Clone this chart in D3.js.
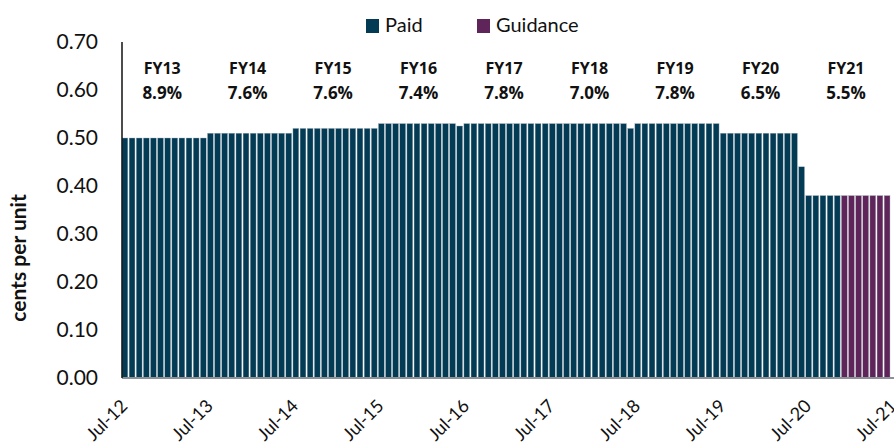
<!DOCTYPE html>
<html>
<head>
<meta charset="utf-8">
<script src="https://cdn.jsdelivr.net/npm/d3@7"></script>
<style>
    body { margin: 0; background: #fff; }
    text { font-family: Lato, "Noto Sans", sans-serif; }
    text.fy { font-family: "Open Sans", Lato, sans-serif; }
</style>
</head>
<body>
<div id="chart"></div>
<script>
// monthly distributions, Jul-12 .. Jun-21 (cents per unit)
const paidValues = [
    // FY13
    0.50, 0.50, 0.50, 0.50, 0.50, 0.50, 0.50, 0.50, 0.50, 0.50, 0.50, 0.50,
    // FY14
    0.51, 0.51, 0.51, 0.51, 0.51, 0.51, 0.51, 0.51, 0.51, 0.51, 0.51, 0.51,
    // FY15
    0.52, 0.52, 0.52, 0.52, 0.52, 0.52, 0.52, 0.52, 0.52, 0.52, 0.52, 0.52,
    // FY16
    0.53, 0.53, 0.53, 0.53, 0.53, 0.53, 0.53, 0.53, 0.53, 0.53, 0.53, 0.525,
    // FY17
    0.53, 0.53, 0.53, 0.53, 0.53, 0.53, 0.53, 0.53, 0.53, 0.53, 0.53, 0.53,
    // FY18
    0.53, 0.53, 0.53, 0.53, 0.53, 0.53, 0.53, 0.53, 0.53, 0.53, 0.53, 0.52,
    // FY19
    0.53, 0.53, 0.53, 0.53, 0.53, 0.53, 0.53, 0.53, 0.53, 0.53, 0.53, 0.53,
    // FY20
    0.51, 0.51, 0.51, 0.51, 0.51, 0.51, 0.51, 0.51, 0.51, 0.51, 0.51, 0.44,
    // FY21 (paid part)
    0.38, 0.38, 0.38, 0.38, 0.38
];
const guidanceValues = [0.38, 0.38, 0.38, 0.38, 0.38, 0.38, 0.38];

const fyLabels = ["FY13", "FY14", "FY15", "FY16", "FY17", "FY18", "FY19", "FY20", "FY21"];
const fyGrowth = ["8.9%", "7.6%", "7.6%", "7.4%", "7.8%", "7.0%", "7.8%", "6.5%", "5.5%"];
const yTicks = [0, 0.1, 0.2, 0.3, 0.4, 0.5, 0.6, 0.7];

const PAID = "#033b55";
const GUIDE = "#5f2459";

const W = 894, H = 443;
const margin = { left: 122, right: 4, top: 42, bottom: 65 };

// build month list
const months = [];
const mNames = ["Jul", "Aug", "Sep", "Oct", "Nov", "Dec", "Jan", "Feb", "Mar", "Apr", "May", "Jun"];
const allValues = paidValues.concat(guidanceValues);
allValues.forEach((v, i) => {
    const yr = 12 + Math.floor((i + 6) / 12);
    months.push({
        key: mNames[i % 12] + "-" + yr,
        idx: i,
        value: v,
        type: i < paidValues.length ? "paid" : "guidance"
    });
});

const svg = d3.select("#chart").append("svg")
    .attr("width", W)
    .attr("height", H);

const x = d3.scaleBand()
    .domain(months.map(d => d.key))
    .range([margin.left, W - margin.right])
    .paddingInner(0.18)
    .paddingOuter(0);

const y = d3.scaleLinear()
    .domain([0, 0.7])
    .range([H - margin.bottom, margin.top]);

// bars
svg.append("g").selectAll("rect")
    .data(months)
    .enter().append("rect")
    .attr("x", d => x(d.key))
    .attr("y", d => y(d.value))
    .attr("width", x.bandwidth())
    .attr("height", d => y(0) - y(d.value))
    .attr("fill", d => d.type === "paid" ? PAID : GUIDE)
    .attr("stroke", "#a7b6c0")
    .attr("stroke-width", 0.4);

// x axis
const xAxisG = svg.append("g")
    .attr("transform", "translate(0," + y(0) + ")");
xAxisG.append("line")
    .attr("x1", margin.left)
    .attr("x2", W)
    .attr("stroke", "#8c9196")
    .attr("stroke-width", 2);

// July tick labels (one per year, incl. Jul-21 at the right edge)
const step = x.step();
const julLabels = d3.range(0, 10).map(k => ({ label: "Jul-" + (12 + k), pos: margin.left + k * 12 * step + step / 2 }));
xAxisG.selectAll(".xtick")
    .data(julLabels)
    .enter().append("text")
    .attr("class", "xtick")
    .attr("transform", d => "translate(" + (d.pos + 3) + ",29) rotate(-45)")
    .attr("text-anchor", "end")
    .attr("font-size", 18)
    .attr("fill", "#111")
    .text(d => d.label);

// y axis
const yAxis = d3.axisLeft(y)
    .tickValues(yTicks)
    .tickFormat(d3.format(".2f"))
    .tickSize(0)
    .tickPadding(24);
const yAxisG = svg.append("g")
    .attr("transform", "translate(" + margin.left + ",0)")
    .call(yAxis);
yAxisG.select(".domain").remove();
yAxisG.selectAll("text")
    .attr("font-size", 21)
    .attr("fill", "#111");
svg.append("line")
    .attr("x1", margin.left)
    .attr("x2", margin.left)
    .attr("y1", y(0.7))
    .attr("y2", y(0))
    .attr("stroke", "#111")
    .attr("stroke-width", 1.5);

// y label
svg.append("text")
    .attr("transform", "translate(26,258) rotate(-90)")
    .attr("text-anchor", "middle")
    .attr("font-size", 21)
    .attr("font-weight", "bold")
    .attr("fill", "#111")
    .text("cents per unit");

// FY annotations, centred on each financial year
const fyG = svg.append("g").selectAll("g")
    .data(fyLabels)
    .enter().append("g")
    .attr("transform", (d, i) => {
        const first = x(months[i * 12].key);
        return "translate(" + (first + 6 * step - step / 2 + 1) + ",0)";
    });
fyG.append("text")
    .attr("class", "fy")
    .attr("y", 74)
    .attr("text-anchor", "middle")
    .attr("font-size", 16)
    .attr("font-weight", "bold")
    .attr("fill", "#111")
    .text(d => d);
fyG.append("text")
    .attr("class", "fy")
    .attr("y", 99)
    .attr("text-anchor", "middle")
    .attr("font-size", 17)
    .attr("font-weight", "bold")
    .attr("fill", "#111")
    .text((d, i) => fyGrowth[i]);

// legend
const legend = [
    { name: "Paid", color: PAID, x: 366 },
    { name: "Guidance", color: GUIDE, x: 477 }
];
const lg = svg.append("g").selectAll("g")
    .data(legend)
    .enter().append("g")
    .attr("transform", d => "translate(" + d.x + ",19)");
lg.append("rect")
    .attr("width", 13)
    .attr("height", 14)
    .attr("fill", d => d.color);
lg.append("text")
    .attr("x", 19)
    .attr("y", 13)
    .attr("font-size", 20)
    .attr("fill", "#111")
    .text(d => d.name);
</script>
</body>
</html>
